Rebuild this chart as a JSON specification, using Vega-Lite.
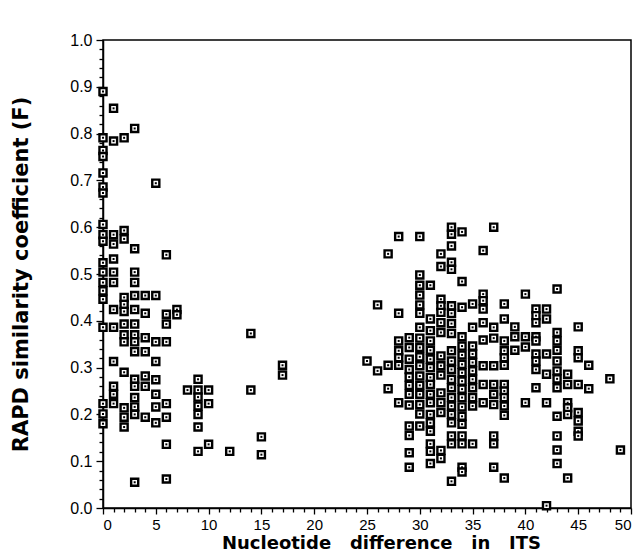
{
  "$schema": "https://vega.github.io/schema/vega-lite/v6.json",
  "width": 528,
  "height": 468,
  "autosize": "none",
  "padding": {"left": 103, "top": 40, "right": 13, "bottom": 49},
  "background": "white",
  "config": {
    "view": {"stroke": "black", "strokeWidth": 1.5},
    "axis": {"domainColor": "black", "domainWidth": 1.5, "tickColor": "black", "tickWidth": 1.3, "labelColor": "black", "titleColor": "black", "grid": false, "labelFont": "Liberation Sans", "titleFont": "DejaVu Sans"}
  },
  "data": {"values": [
    {"x":0,"y":0.89},{"x":0,"y":0.791},{"x":0,"y":0.764},{"x":0,"y":0.751},{"x":0,"y":0.716},{"x":0,"y":0.686},{"x":0,"y":0.673},{"x":0,"y":0.606},{"x":0,"y":0.584},{"x":0,"y":0.57},{"x":0,"y":0.524},{"x":0,"y":0.504},{"x":0,"y":0.482},{"x":0,"y":0.464},{"x":0,"y":0.446},{"x":0,"y":0.386},{"x":0,"y":0.223},{"x":0,"y":0.201},{"x":0,"y":0.18},
    {"x":1,"y":0.854},{"x":1,"y":0.784},{"x":1,"y":0.584},{"x":1,"y":0.564},{"x":1,"y":0.532},{"x":1,"y":0.504},{"x":1,"y":0.482},{"x":1,"y":0.424},{"x":1,"y":0.386},{"x":1,"y":0.313},{"x":1,"y":0.26},{"x":1,"y":0.243},{"x":1,"y":0.223},
    {"x":2,"y":0.791},{"x":2,"y":0.593},{"x":2,"y":0.575},{"x":2,"y":0.45},{"x":2,"y":0.435},{"x":2,"y":0.42},{"x":2,"y":0.393},{"x":2,"y":0.37},{"x":2,"y":0.355},{"x":2,"y":0.29},{"x":2,"y":0.214},{"x":2,"y":0.194},{"x":2,"y":0.173},
    {"x":3,"y":0.811},{"x":3,"y":0.554},{"x":3,"y":0.504},{"x":3,"y":0.482},{"x":3,"y":0.454},{"x":3,"y":0.424},{"x":3,"y":0.393},{"x":3,"y":0.37},{"x":3,"y":0.355},{"x":3,"y":0.334},{"x":3,"y":0.275},{"x":3,"y":0.26},{"x":3,"y":0.236},{"x":3,"y":0.216},{"x":3,"y":0.2},{"x":3,"y":0.055},
    {"x":4,"y":0.454},{"x":4,"y":0.416},{"x":4,"y":0.364},{"x":4,"y":0.334},{"x":4,"y":0.282},{"x":4,"y":0.26},{"x":4,"y":0.194},
    {"x":5,"y":0.694},{"x":5,"y":0.454},{"x":5,"y":0.355},{"x":5,"y":0.313},{"x":5,"y":0.274},{"x":5,"y":0.243},{"x":5,"y":0.216},{"x":5,"y":0.182},
    {"x":6,"y":0.541},{"x":6,"y":0.414},{"x":6,"y":0.393},{"x":6,"y":0.355},{"x":6,"y":0.223},{"x":6,"y":0.194},{"x":6,"y":0.136},{"x":6,"y":0.062},
    {"x":7,"y":0.424},{"x":7,"y":0.413},
    {"x":8,"y":0.252},
    {"x":9,"y":0.275},{"x":9,"y":0.252},{"x":9,"y":0.237},{"x":9,"y":0.218},{"x":9,"y":0.2},{"x":9,"y":0.173},{"x":9,"y":0.121},
    {"x":10,"y":0.252},{"x":10,"y":0.223},{"x":10,"y":0.136},
    {"x":12,"y":0.121},
    {"x":14,"y":0.373},{"x":14,"y":0.252},
    {"x":15,"y":0.152},{"x":15,"y":0.114},
    {"x":17,"y":0.305},{"x":17,"y":0.284},
    {"x":25,"y":0.314},
    {"x":26,"y":0.434},{"x":26,"y":0.293},
    {"x":27,"y":0.543},{"x":27,"y":0.305},{"x":27,"y":0.255},
    {"x":28,"y":0.58},{"x":28,"y":0.416},{"x":28,"y":0.357},{"x":28,"y":0.336},{"x":28,"y":0.321},{"x":28,"y":0.305},{"x":28,"y":0.225},
    {"x":29,"y":0.364},{"x":29,"y":0.343},{"x":29,"y":0.318},{"x":29,"y":0.296},{"x":29,"y":0.28},{"x":29,"y":0.262},{"x":29,"y":0.243},{"x":29,"y":0.22},{"x":29,"y":0.175},{"x":29,"y":0.155},{"x":29,"y":0.118},{"x":29,"y":0.087},
    {"x":30,"y":0.58},{"x":30,"y":0.498},{"x":30,"y":0.476},{"x":30,"y":0.455},{"x":30,"y":0.434},{"x":30,"y":0.416},{"x":30,"y":0.386},{"x":30,"y":0.363},{"x":30,"y":0.343},{"x":30,"y":0.323},{"x":30,"y":0.304},{"x":30,"y":0.282},{"x":30,"y":0.262},{"x":30,"y":0.243},{"x":30,"y":0.221},{"x":30,"y":0.201},{"x":30,"y":0.175},
    {"x":31,"y":0.476},{"x":31,"y":0.404},{"x":31,"y":0.379},{"x":31,"y":0.357},{"x":31,"y":0.337},{"x":31,"y":0.318},{"x":31,"y":0.3},{"x":31,"y":0.279},{"x":31,"y":0.264},{"x":31,"y":0.243},{"x":31,"y":0.225},{"x":31,"y":0.2},{"x":31,"y":0.182},{"x":31,"y":0.164},{"x":31,"y":0.137},{"x":31,"y":0.121},{"x":31,"y":0.095},
    {"x":32,"y":0.543},{"x":32,"y":0.516},{"x":32,"y":0.446},{"x":32,"y":0.432},{"x":32,"y":0.418},{"x":32,"y":0.396},{"x":32,"y":0.375},{"x":32,"y":0.325},{"x":32,"y":0.304},{"x":32,"y":0.284},{"x":32,"y":0.246},{"x":32,"y":0.225},{"x":32,"y":0.204},{"x":32,"y":0.123},{"x":32,"y":0.106},
    {"x":33,"y":0.6},{"x":33,"y":0.585},{"x":33,"y":0.56},{"x":33,"y":0.525},{"x":33,"y":0.51},{"x":33,"y":0.432},{"x":33,"y":0.416},{"x":33,"y":0.394},{"x":33,"y":0.373},{"x":33,"y":0.336},{"x":33,"y":0.314},{"x":33,"y":0.296},{"x":33,"y":0.275},{"x":33,"y":0.257},{"x":33,"y":0.236},{"x":33,"y":0.218},{"x":33,"y":0.2},{"x":33,"y":0.182},{"x":33,"y":0.154},{"x":33,"y":0.137},{"x":33,"y":0.057},
    {"x":34,"y":0.59},{"x":34,"y":0.484},{"x":34,"y":0.429},{"x":34,"y":0.366},{"x":34,"y":0.346},{"x":34,"y":0.327},{"x":34,"y":0.307},{"x":34,"y":0.289},{"x":34,"y":0.271},{"x":34,"y":0.254},{"x":34,"y":0.236},{"x":34,"y":0.216},{"x":34,"y":0.196},{"x":34,"y":0.179},{"x":34,"y":0.154},{"x":34,"y":0.137},{"x":34,"y":0.087},{"x":34,"y":0.077},
    {"x":35,"y":0.436},{"x":35,"y":0.386},{"x":35,"y":0.346},{"x":35,"y":0.329},{"x":35,"y":0.311},{"x":35,"y":0.293},{"x":35,"y":0.275},{"x":35,"y":0.257},{"x":35,"y":0.236},{"x":35,"y":0.218},{"x":35,"y":0.137},
    {"x":36,"y":0.55},{"x":36,"y":0.457},{"x":36,"y":0.443},{"x":36,"y":0.425},{"x":36,"y":0.396},{"x":36,"y":0.359},{"x":36,"y":0.304},{"x":36,"y":0.264},{"x":36,"y":0.225},
    {"x":37,"y":0.6},{"x":37,"y":0.386},{"x":37,"y":0.363},{"x":37,"y":0.304},{"x":37,"y":0.264},{"x":37,"y":0.243},{"x":37,"y":0.221},{"x":37,"y":0.154},{"x":37,"y":0.137},{"x":37,"y":0.087},
    {"x":38,"y":0.436},{"x":38,"y":0.404},{"x":38,"y":0.357},{"x":38,"y":0.336},{"x":38,"y":0.321},{"x":38,"y":0.305},{"x":38,"y":0.264},{"x":38,"y":0.25},{"x":38,"y":0.236},{"x":38,"y":0.218},{"x":38,"y":0.198},{"x":38,"y":0.064},
    {"x":39,"y":0.387},{"x":39,"y":0.366},{"x":39,"y":0.337},
    {"x":40,"y":0.457},{"x":40,"y":0.366},{"x":40,"y":0.344},{"x":40,"y":0.225},
    {"x":41,"y":0.425},{"x":41,"y":0.411},{"x":41,"y":0.396},{"x":41,"y":0.366},{"x":41,"y":0.357},{"x":41,"y":0.329},{"x":41,"y":0.314},{"x":41,"y":0.296},{"x":41,"y":0.257},
    {"x":42,"y":0.425},{"x":42,"y":0.404},{"x":42,"y":0.329},{"x":42,"y":0.286},{"x":42,"y":0.225},{"x":42,"y":0.005},
    {"x":43,"y":0.468},{"x":43,"y":0.375},{"x":43,"y":0.357},{"x":43,"y":0.337},{"x":43,"y":0.314},{"x":43,"y":0.293},{"x":43,"y":0.276},{"x":43,"y":0.257},{"x":43,"y":0.196},{"x":43,"y":0.154},{"x":43,"y":0.124},{"x":43,"y":0.095},
    {"x":44,"y":0.286},{"x":44,"y":0.264},{"x":44,"y":0.225},{"x":44,"y":0.214},{"x":44,"y":0.2},{"x":44,"y":0.064},
    {"x":45,"y":0.387},{"x":45,"y":0.336},{"x":45,"y":0.321},{"x":45,"y":0.264},{"x":45,"y":0.204},{"x":45,"y":0.186},{"x":45,"y":0.164},{"x":45,"y":0.154},
    {"x":46,"y":0.305},{"x":46,"y":0.255},
    {"x":48,"y":0.276},
    {"x":49,"y":0.124}
  ]},
  "encoding": {
    "x": {"field": "x", "type": "quantitative", "scale": {"domain": [0, 50], "nice": false, "zero": true},
      "axis": {"title": "Nucleotide\u00a0\u00a0\u00a0difference\u00a0\u00a0\u00a0in\u00a0\u00a0\u00a0ITS", "titleFontSize": 18, "titleFontWeight": "bold", "titlePadding": 2, "titleX": 278,
        "values": [0,1,2,3,4,5,6,7,8,9,10,11,12,13,14,15,16,17,18,19,20,21,22,23,24,25,26,27,28,29,30,31,32,33,34,35,36,37,38,39,40,41,42,43,44,45,46,47,48,49,50],
        "labelExpr": "datum.value % 5 === 0 ? datum.label : ''", "labelFontSize": 15, "labelPadding": 3,
        "tickSize": {"condition": {"test": "datum.value % 5 === 0", "value": 6}, "value": 4}}},
    "y": {"field": "y", "type": "quantitative", "scale": {"domain": [0, 1], "nice": false},
      "axis": {"title": "RAPD similarity coefficient (F)", "titleFontSize": 21, "titleFontWeight": "bold", "titlePadding": 38,
        "values": [0,0.02,0.04,0.06,0.08,0.1,0.12,0.14,0.16,0.18,0.2,0.22,0.24,0.26,0.28,0.3,0.32,0.34,0.36,0.38,0.4,0.42,0.44,0.46,0.48,0.5,0.52,0.54,0.56,0.58,0.6,0.62,0.64,0.66,0.68,0.7,0.72,0.74,0.76,0.78,0.8,0.82,0.84,0.86,0.88,0.9,0.92,0.94,0.96,0.98,1],
        "labelExpr": "abs(round(datum.value*10) - datum.value*10) < 0.001 ? format(datum.value, '.1f') : ''", "labelFontSize": 16, "labelPadding": 4,
        "tickSize": {"condition": {"test": "abs(round(datum.value*10) - datum.value*10) < 0.001", "value": 7}, "value": 4}}}
  },
  "layer": [
    {"mark": {"type": "square", "fill": "white", "stroke": "black", "strokeWidth": 2.4, "size": 50, "opacity": 1, "clip": false}},
    {"mark": {"type": "square", "fill": "black", "size": 4, "opacity": 1, "clip": false}}
  ]
}
